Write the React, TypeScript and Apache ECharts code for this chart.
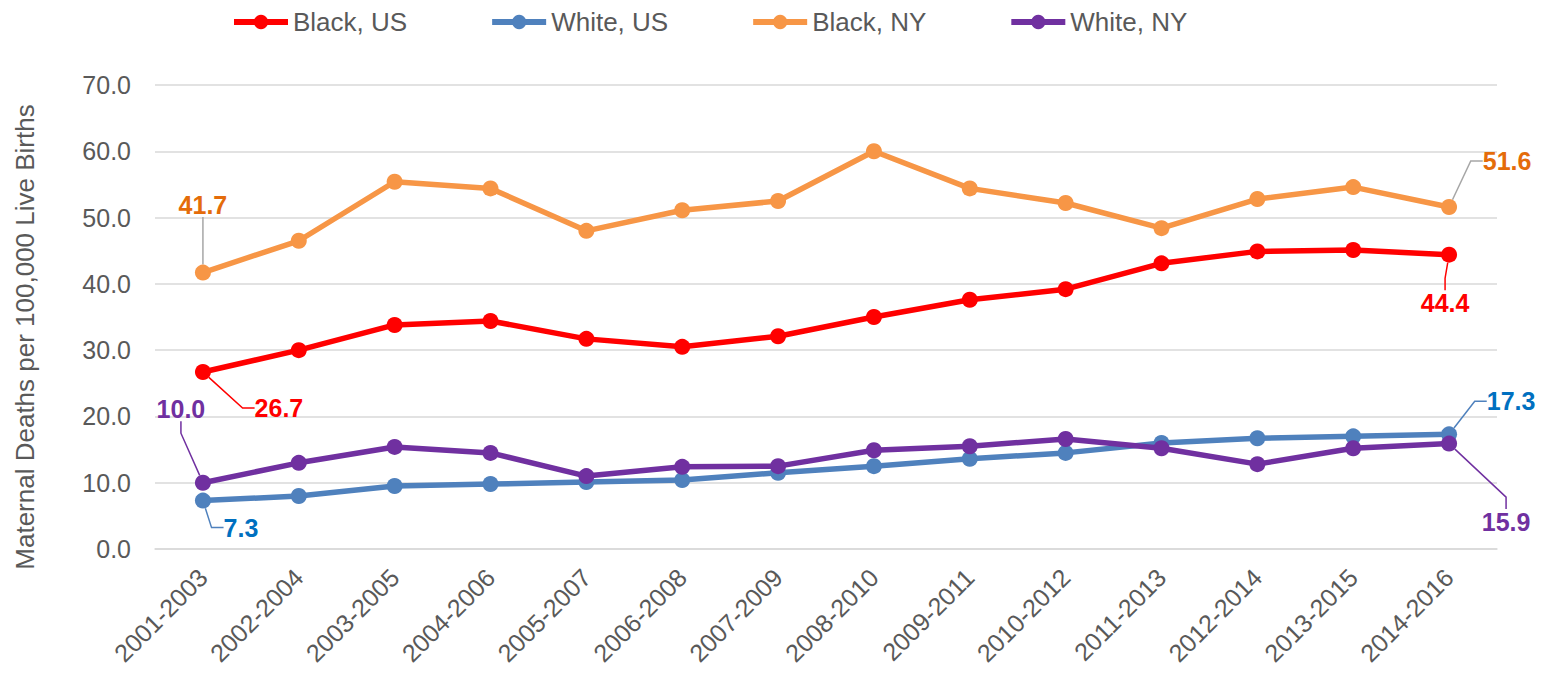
import React, { useEffect, useRef } from 'react';
import * as echarts from 'echarts';

const categories = [
  '2001-2003', '2002-2004', '2003-2005', '2004-2006', '2005-2007', '2006-2008', '2007-2009',
  '2008-2010', '2009-2011', '2010-2012', '2011-2013', '2012-2014', '2013-2015', '2014-2016',
];
const blackUS = [26.7, 30.0, 33.8, 34.4, 31.7, 30.5, 32.1, 35.0, 37.6, 39.2, 43.1, 44.9, 45.1, 44.4];
const whiteUS = [7.3, 8.0, 9.5, 9.8, 10.1, 10.4, 11.5, 12.5, 13.6, 14.5, 16.0, 16.7, 17.0, 17.3];
const blackNY = [41.7, 46.5, 55.4, 54.4, 48.0, 51.1, 52.5, 60.0, 54.4, 52.2, 48.4, 52.8, 54.6, 51.6];
const whiteNY = [10.0, 13.0, 15.4, 14.5, 11.0, 12.4, 12.5, 14.9, 15.5, 16.6, 15.2, 12.8, 15.2, 15.9];
const seriesNames = ['Black, US', 'White, US', 'Black, NY', 'White, NY'];
const yMin = 0;
const yMax = 70;
const yStep = 10;
const yTitle = 'Maternal Deaths per 100,000 Live Births';

const FONT = '"Liberation Sans", Arial, Helvetica, sans-serif';
const TEXT = '#595959';
const GRID = '#D9D9D9';

// label offsets (dx, dy) relative to the data point for first / last labels
const OFFSETS: Record<string, { first: [number, number]; last: [number, number] }> = {
  'Black, US': { first: [76, 36], last: [-4, 48] },
  'White, US': { first: [38, 27], last: [62, -33] },
  'Black, NY': { first: [0, -68], last: [58, -46] },
  'White, NY': { first: [-22, -74], last: [57, 78] },
};

function mkSeries(name: string, values: number[], color: string, labelColor: string, leaderColor: string, z: number) {
  const last = values.length - 1;
  const off = OFFSETS[name];
  return {
    name,
    type: 'line',
    z,
    data: values.map((v, i) => (i === 0 || i === last ? { value: v, label: { show: true } } : v)),
    symbol: 'circle',
    symbolSize: 16,
    lineStyle: { width: 5.5, color },
    itemStyle: { color },
    label: {
      show: false,
      position: 'inside',
      formatter: (p: any) => Number(p.value).toFixed(1),
      color: labelColor,
      fontSize: 25,
      fontWeight: 'bold',
      fontFamily: FONT,
      textBorderWidth: 0,
    },
    labelLine: { show: true, length2: 12, lineStyle: { color: leaderColor, width: 1.5 } },
    labelLayout: (p: any) => {
      const o = p.dataIndex === 0 ? off.first : p.dataIndex === last ? off.last : null;
      return o ? { dx: o[0], dy: o[1] } : {};
    },
  };
}

export default function App() {
  const ref = useRef<HTMLDivElement>(null);
  useEffect(() => {
    document.body.style.margin = '0';
    const chart = echarts.init(ref.current!, null, { renderer: 'svg' });
    chart.setOption({
      animation: false,
      backgroundColor: '#ffffff',
      legend: {
        left: 226,
        top: 4,
        itemWidth: 54,
        itemHeight: 18,
        itemGap: 82,
        lineStyle: { width: 6 },
        textStyle: { fontSize: 26, color: TEXT, fontFamily: FONT },
        data: seriesNames,
      },
      grid: { left: 155, right: 47, top: 85, bottom: 132, containLabel: false },
      xAxis: {
        type: 'category',
        data: categories,
        boundaryGap: true,
        axisLine: { lineStyle: { color: GRID, width: 1.5 } },
        axisTick: { show: false },
        axisLabel: { rotate: 45, fontSize: 25, color: TEXT, fontFamily: FONT, margin: 24, interval: 0 },
      },
      yAxis: {
        type: 'value',
        min: yMin,
        max: yMax,
        interval: yStep,
        axisLine: { show: false },
        axisTick: { show: false },
        axisLabel: { fontSize: 25, color: TEXT, fontFamily: FONT, margin: 24, formatter: (v: number) => v.toFixed(1) },
        splitLine: { lineStyle: { color: GRID, width: 1.5 } },
      },
      graphic: [
        {
          type: 'text',
          x: 25,
          y: 337,
          rotation: Math.PI / 2,
          style: {
            text: yTitle,
            fontSize: 26,
            fontFamily: FONT,
            fill: TEXT,
            align: 'center',
            verticalAlign: 'middle',
          },
        },
      ],
      series: [
        mkSeries('Black, US', blackUS, '#FF0000', '#FF0000', '#FF0000', 2),
        mkSeries('White, US', whiteUS, '#4F81BD', '#0070C0', '#4F81BD', 3),
        mkSeries('Black, NY', blackNY, '#F79646', '#E46C0A', '#A6A6A6', 4),
        mkSeries('White, NY', whiteNY, '#7030A0', '#7030A0', '#7030A0', 5),
      ],
    });
    return () => chart.dispose();
  }, []);
  return <div ref={ref} style={{ width: 1544, height: 681 }} />;
}
